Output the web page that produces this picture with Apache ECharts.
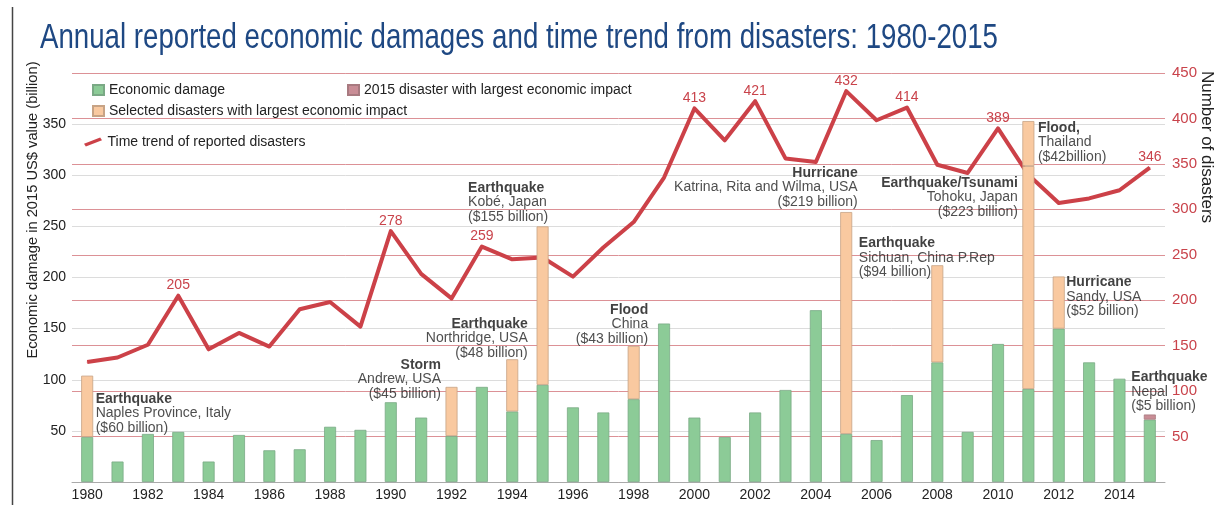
<!DOCTYPE html>
<html>
<head>
<meta charset="utf-8">
<script src="https://cdn.jsdelivr.net/npm/echarts@6/dist/echarts.min.js"></script>
<style>
html,body{margin:0;padding:0;background:#fff;}
#chart{width:1220px;height:505px;}
</style>
</head>
<body>
<div id="chart"></div>
<script>
// ---------- data ----------
const years = ['1980','1981','1982','1983','1984','1985','1986','1987','1988','1989',
  '1990','1991','1992','1993','1994','1995','1996','1997','1998','1999',
  '2000','2001','2002','2003','2004','2005','2006','2007','2008','2009',
  '2010','2011','2012','2013','2014','2015'];

// Economic damage, billion 2015 US$ (green)
const economicDamage = [44,20,47,49,20,46,31,32,54,51,
  78,63,45,93,69,95,73,68,81,155,
  63,44,68,90,168,47,41,85,117,49,
  135,91,150,117,101,61];

// Selected disasters with largest economic impact (orange), stacked on top
const selectedDisasters = [60,null,null,null,null,null,null,null,null,null,
  null,null,48,null,51,155,null,null,52,null,
  null,null,null,null,null,217,null,null,95,null,
  null,218,51,null,null,null];
// second selected disaster in 2011 (Thailand flood)
const selectedDisasters2 = [null,null,null,null,null,null,null,null,null,null,
  null,null,null,null,null,null,null,null,null,null,
  null,null,null,null,null,null,null,null,null,null,
  null,44,null,null,null,null];
// 2015 disaster with largest economic impact
const disaster2015 = [null,null,null,null,null,null,null,null,null,null,
  null,null,null,null,null,null,null,null,null,null,
  null,null,null,null,null,null,null,null,null,null,
  null,null,null,null,null,5];

// Time trend of reported disasters (right axis)
const reportedDisasters = [132,137,151,205,146,164,149,190,198,171,
  276,229,202,259,245,247,226,258,286,335,
  411,376,419,356,352,430,398,412,349,340,
  389,338,307,312,321,346];
const labeledYears = ['1983','1990','1993','2000','2002','2005','2007','2010','2015'];
const lineLabels = ['205','278','259','413','421','432','414','389','346'];

const annotations = [
  {year:'1980', head:'Earthquake', lines:['Naples Province, Italy','($60 billion)']},
  {year:'1992', head:'Storm', lines:['Andrew, USA','($45 billion)']},
  {year:'1994', head:'Earthquake', lines:['Northridge, USA','($48 billion)']},
  {year:'1995', head:'Earthquake', lines:['Kobé, Japan','($155 billion)']},
  {year:'1998', head:'Flood', lines:['China','($43 billion)']},
  {year:'2005', head:'Hurricane', lines:['Katrina, Rita and Wilma, USA','($219 billion)']},
  {year:'2008', head:'Earthquake', lines:['Sichuan, China P.Rep','($94 billion)']},
  {year:'2011', head:'Earthquake/Tsunami', lines:['Tohoku, Japan','($223 billion)']},
  {year:'2011', head:'Flood,', lines:['Thailand','($42billion)']},
  {year:'2012', head:'Hurricane', lines:['Sandy, USA','($52 billion)']},
  {year:'2015', head:'Earthquake', lines:['Nepal','($5 billion)']}
];

const titleText = 'Annual reported economic damages and time trend from disasters: 1980-2015';
const leftAxisName = 'Economic damage in 2015 US$ value (billion)';
const rightAxisName = 'Number of disasters';
const seriesNames = {
  green:'Economic damage',
  mauve:'2015 disaster with largest economic impact',
  orange:'Selected disasters with largest economic impact',
  line:'Time trend of reported disasters'
};

// ---------- layout for annotations (anchor in left-axis units, pixel dx, alignment) ----------
const annotationLayout = [
  {v:88, dx:9, align:'left'},
  {v:121, dx:-10, align:'right'},
  {v:161, dx:16, align:'right'},
  {v:294, dx:-74, align:'left'},
  {v:175, dx:15, align:'right'},
  {v:309, dx:12, align:'right'},
  {v:240, dx:-78, align:'left'},
  {v:299, dx:-10, align:'right'},
  {v:353, dx:10, align:'left'},
  {v:202, dx:8, align:'left'},
  {v:109, dx:-18, align:'left'}
];

const FONT = '"Liberation Sans", Arial, Helvetica, sans-serif';
const RED = '#c9434b';

// title condensed to fit
const ctx = document.createElement('canvas').getContext('2d');
ctx.font = '35px ' + FONT;
const titleScale = 958 / ctx.measureText(titleText).width;

const annData = annotations.map((a, i) => {
  const L = annotationLayout[i];
  return {
    value: [years.indexOf(a.year), L.v],
    label: {
      show: true,
      position: [L.dx, 0],
      align: L.align,
      verticalAlign: 'top',
      formatter: '{b|' + a.head + '}\n' + a.lines.map(s => '{n|' + s + '}').join('\n'),
      rich: {
        b: {fontFamily: FONT, fontSize: 14, fontWeight: 'bold', color: '#111', lineHeight: 14.5, align: L.align},
        n: {fontFamily: FONT, fontSize: 14, color: '#222', lineHeight: 14.5, align: L.align}
      }
    }
  };
});

const lineData = reportedDisasters.map((v, i) => {
  const k = labeledYears.indexOf(years[i]);
  return {value: v, label: {show: k >= 0, formatter: k >= 0 ? lineLabels[k] : ''}};
});

const chart = echarts.init(document.getElementById('chart'), null, {renderer: 'canvas'});
const option = {
  backgroundColor: '#fff',
  animation: false,
  textStyle: {fontFamily: FONT},
  grid: {left: 72, right: 55, top: 73, bottom: 23, containLabel: false},
  legend: [
    {data: [seriesNames.green], left: 92, top: 83, padding: 0, itemWidth: 11, itemHeight: 10, icon: 'rect',
     textStyle: {fontSize: 14, color: '#222', fontFamily: FONT}, selectedMode: false},
    {data: [seriesNames.mauve], left: 347, top: 83, padding: 0, itemWidth: 11, itemHeight: 10, icon: 'rect',
     textStyle: {fontSize: 14, color: '#222', fontFamily: FONT}, selectedMode: false},
    {data: [seriesNames.orange], left: 92, top: 104, padding: 0, itemWidth: 11, itemHeight: 10, icon: 'rect',
     textStyle: {fontSize: 14, color: '#222', fontFamily: FONT}, selectedMode: false},
    {data: [seriesNames.line], left: 84, top: 135, padding: 0, itemWidth: 19, itemHeight: 9,
     icon: 'path://M0,7 L2,10 L20,3 L18,0 Z',
     textStyle: {fontSize: 14, color: '#222', fontFamily: FONT}, selectedMode: false}
  ],
  xAxis: {
    type: 'category',
    data: years,
    axisLine: {lineStyle: {color: '#aaa'}},
    axisTick: {show: false},
    axisLabel: {interval: 1, color: '#222', fontSize: 14, margin: 6, fontFamily: FONT},
    splitLine: {show: false}
  },
  yAxis: [
    {
      type: 'value', min: 0, max: 400, interval: 50,
      axisLine: {show: false}, axisTick: {show: false},
      axisLabel: {color: '#222', fontSize: 14, margin: 6, fontFamily: FONT,
        formatter: v => (v === 0 || v === 400) ? '' : String(v)},
      splitLine: {lineStyle: {color: '#dcdcdc', width: 1}}
    },
    {
      type: 'value', min: 0, max: 450, interval: 50, position: 'right',
      axisLine: {show: false}, axisTick: {show: false},
      axisLabel: {color: RED, fontSize: 15, margin: 7, fontFamily: FONT,
        formatter: v => v === 0 ? '' : String(v)},
      splitLine: {lineStyle: {color: '#dc9196', width: 1}}
    }
  ],
  series: [
    {
      name: seriesNames.line, type: 'line', yAxisIndex: 1, z: 2,
      data: lineData,
      symbol: 'circle', symbolSize: 1, showSymbol: true,
      itemStyle: {color: '#cc4148'},
      lineStyle: {color: '#cc4148', width: 4, join: 'round'},
      label: {position: 'top', distance: 3, color: RED, fontSize: 14, fontFamily: FONT},
      emphasis: {disabled: true}
    },
    {
      name: seriesNames.green, type: 'bar', stack: 'dmg', barWidth: 12, z: 3,
      data: economicDamage,
      itemStyle: {color: '#8ccb97', borderColor: '#7aa985', borderWidth: 0.8}
    },
    {
      name: seriesNames.orange, type: 'bar', stack: 'dmg', barWidth: 12, z: 3,
      data: selectedDisasters,
      itemStyle: {color: '#f9c9a0', borderColor: '#c7a385', borderWidth: 0.8}
    },
    {
      name: seriesNames.orange, type: 'bar', stack: 'dmg', barWidth: 12, z: 3,
      data: selectedDisasters2,
      itemStyle: {color: '#f9c9a0', borderColor: '#c7a385', borderWidth: 0.8}
    },
    {
      name: seriesNames.mauve, type: 'bar', stack: 'dmg', barWidth: 12, z: 3,
      data: disaster2015,
      itemStyle: {color: '#c98d96', borderColor: '#a87a80', borderWidth: 0.8}
    },
    {
      name: 'annotations', type: 'scatter', yAxisIndex: 0, z: 5,
      symbolSize: 1, itemStyle: {color: 'rgba(0,0,0,0)'},
      data: annData, silent: true
    }
  ],
  graphic: [
    {type: 'line', shape: {x1: 12.5, y1: 7, x2: 12.5, y2: 505}, style: {stroke: '#444', lineWidth: 1.5}},
    {type: 'text', x: 40, y: 38, scaleX: titleScale,
     style: {text: titleText, font: '35px ' + FONT, fill: '#1e4883',
       textAlign: 'left', textVerticalAlign: 'middle', align: 'left', verticalAlign: 'middle'}},
    {type: 'text', x: 33, y: 210, rotation: Math.PI / 2,
     style: {text: leftAxisName, font: '14.7px ' + FONT, fill: '#222',
       textAlign: 'center', textVerticalAlign: 'middle', align: 'center', verticalAlign: 'middle'}},
    {type: 'text', x: 1207, y: 147, rotation: -Math.PI / 2,
     style: {text: rightAxisName, font: '17px ' + FONT, fill: '#222',
       textAlign: 'center', textVerticalAlign: 'middle', align: 'center', verticalAlign: 'middle'}}
  ]
};
chart.setOption(option);
</script>
</body>
</html>
